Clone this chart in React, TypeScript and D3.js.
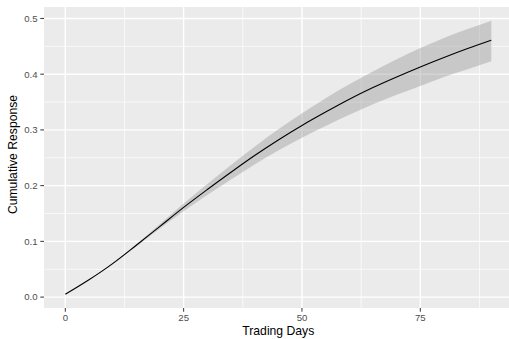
import { useMemo } from "react";
import * as d3 from "d3";

// trading days and the cumulative response, with its band
const days = [0, 5, 10, 15, 20, 25, 30, 35, 40, 45, 50, 55, 60, 65, 70, 75, 80, 85, 90];
const meanResponse = [
  0.005, 0.031, 0.06, 0.093, 0.127, 0.161, 0.193, 0.224, 0.254, 0.282, 0.308, 0.332, 0.355,
  0.376, 0.395, 0.413, 0.43, 0.446, 0.461,
];
const upperResponse = [
  0.005, 0.031, 0.061, 0.095, 0.131, 0.168, 0.203, 0.237, 0.27, 0.301, 0.33, 0.357, 0.382,
  0.405, 0.427, 0.447, 0.465, 0.481, 0.496,
];
const lowerResponse = [
  0.005, 0.031, 0.059, 0.091, 0.123, 0.154, 0.183, 0.211, 0.238, 0.263, 0.286, 0.307, 0.327,
  0.346, 0.363, 0.379, 0.395, 0.409, 0.423,
];
const xTicks = [0, 25, 50, 75];
const xMinor = [12.5, 37.5, 62.5, 87.5];
const yTicks = [0, 0.1, 0.2, 0.3, 0.4, 0.5];
const yMinor = [0.05, 0.15, 0.25, 0.35, 0.45];

const W = 509;
const H = 339;
const panel = { left: 44, top: 7, right: 512.6, bottom: 308 };
const font = "'Liberation Sans', Arial, Helvetica, sans-serif";

function expand([a, b]: number[]) {
  const pad = (b - a) * 0.05;
  return [a - pad, b + pad];
}

const App = () => {
  const rows = useMemo(
    () => days.map((d, i) => ({ d, m: meanResponse[i], lo: lowerResponse[i], hi: upperResponse[i] })),
    []
  );

  const x = d3
    .scaleLinear()
    .domain(expand(d3.extent(days) as number[]))
    .range([panel.left, panel.right]);
  const y = d3
    .scaleLinear()
    .domain(expand([d3.min(lowerResponse) as number, d3.max(upperResponse) as number]))
    .range([panel.bottom, panel.top]);

  const band = d3
    .area<any>()
    .x((r) => x(r.d))
    .y0((r) => y(r.lo))
    .y1((r) => y(r.hi))
    .curve(d3.curveMonotoneX)(rows);
  const line = d3
    .line<any>()
    .x((r) => x(r.d))
    .y((r) => y(r.m))
    .curve(d3.curveMonotoneX)(rows);

  const pw = Math.min(W, panel.right) - panel.left;

  return (
    <svg
      width={W}
      height={H}
      style={{ position: "absolute", left: 0, top: 0, display: "block", background: "#fff" }}
    >
      <rect x={panel.left} y={panel.top} width={pw} height={panel.bottom - panel.top} fill="#EBEBEB" />
      <g stroke="#fff" fill="none">
        {yMinor.map((v) => (
          <line key={"ym" + v} x1={panel.left} x2={panel.left + pw} y1={y(v)} y2={y(v)} strokeWidth={0.7} />
        ))}
        {xMinor.map((v) => (
          <line key={"xm" + v} x1={x(v)} x2={x(v)} y1={panel.top} y2={panel.bottom} strokeWidth={0.7} />
        ))}
        {yTicks.map((v) => (
          <line key={"y" + v} x1={panel.left} x2={panel.left + pw} y1={y(v)} y2={y(v)} strokeWidth={1.4} />
        ))}
        {xTicks.map((v) => (
          <line key={"x" + v} x1={x(v)} x2={x(v)} y1={panel.top} y2={panel.bottom} strokeWidth={1.4} />
        ))}
      </g>
      <path d={band ?? ""} fill="#999999" fillOpacity={0.42} />
      <path d={line ?? ""} fill="none" stroke="#000" strokeWidth={1.1} />

      <g fontFamily={font} fontSize={9.6} fill="#4D4D4D">
        {yTicks.map((v) => (
          <g key={"yt" + v}>
            <line x1={panel.left - 3.7} x2={panel.left} y1={y(v)} y2={y(v)} stroke="#333" strokeWidth={1} />
            <text x={panel.left - 6.5} y={y(v)} dy="0.35em" textAnchor="end">
              {v.toFixed(1)}
            </text>
          </g>
        ))}
        {xTicks.map((v) => (
          <g key={"xt" + v}>
            <line x1={x(v)} x2={x(v)} y1={panel.bottom} y2={panel.bottom + 3.7} stroke="#333" strokeWidth={1} />
            <text x={x(v)} y={panel.bottom + 13} textAnchor="middle">
              {v}
            </text>
          </g>
        ))}
      </g>
      <text x={(x(0) + x(90)) / 2} y={335.2} textAnchor="middle" fontFamily={font} fontSize={12.2} fill="#000">
        Trading Days
      </text>
      <text
        transform={`translate(17.2, ${(panel.top + panel.bottom) / 2 - 3}) rotate(-90)`}
        textAnchor="middle"
        fontFamily={font}
        fontSize={12.2}
        fill="#000"
      >
        Cumulative Response
      </text>
    </svg>
  );
};

export default App;
